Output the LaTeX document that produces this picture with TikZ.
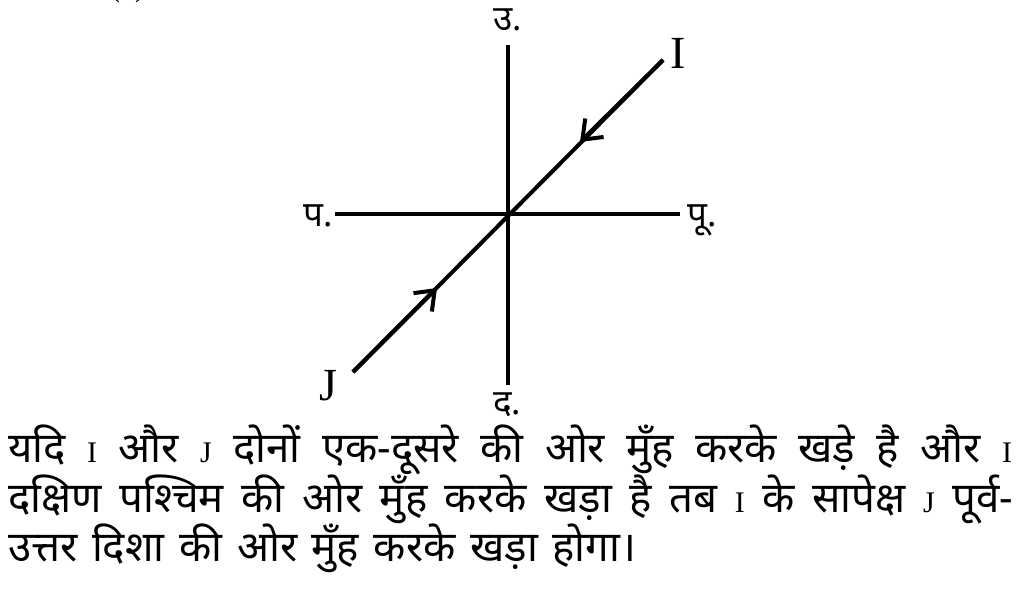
\documentclass[tikz,border=0pt]{standalone}
\usepackage{graphicx}
\usepackage{fontspec}
\setmainfont{Liberation Serif}
\newfontfamily\latinfont{Liberation Serif}
\newfontfamily\devfont[Script=Devanagari,Scale=1.4]{Noto Sans}
\newcommand\latletter[1]{\scalebox{0.65}{\fontsize{46}{50}\selectfont\latinfont #1}}
\usetikzlibrary{arrows.meta}
\begin{document}
\begin{tikzpicture}[x=1pt,y=-1pt,
  axisline/.style={line width=4pt},
  arrowseg/.style={line width=4pt,-{Straight Barb[length=17pt,width=26pt]}},
  devlab/.style={inner sep=0,font=\fontsize{25}{28}\selectfont\devfont},
  latlab/.style={inner sep=0,font=\fontsize{46}{50}\selectfont\latinfont},
  bodyline/.style={inner sep=0,anchor=base west,font=\fontsize{30}{36}\selectfont\devfont}]
\useasboundingbox (0,0) rectangle (1019,589);
% cut-off label at the top
\node[inner sep=0,anchor=base west] (lbl) at (110,-3) {\latletter{(b)}};
% axes
\coordinate (O) at (508,214);
\coordinate (Nend) at (508,45);
\coordinate (Send) at (508,385);
\coordinate (Wend) at (335,214);
\coordinate (Eend) at (680,214);
\draw[axisline] (Nend) -- (Send);
\draw[axisline] (Wend) -- (Eend);
% diagonal I--J
\coordinate (Iend) at (663,60);
\coordinate (Jend) at (353,372);
\coordinate (tu) at (580,142);
\coordinate (tl) at (437,288);
\draw[axisline] (Iend) -- (Jend);
\draw[arrowseg] (Iend) -- (tu);
\draw[arrowseg] (Jend) -- (tl);
% labels
\node[devlab,anchor=base] (north) at (508,30) {उ.};
\node[devlab,anchor=base] (west) at (318,226) {प.};
\node[devlab,anchor=base] (east) at (702,226) {पू.};
\node[devlab,anchor=base] (south) at (507,414) {द.};
\node[latlab,anchor=base] (I) at (678,68) {I};
\node[latlab,anchor=base] (J) at (328,400) {J};
% text
\node[bodyline] (l1) at (8,462) {\makebox[1004pt][s]{यदि \latletter{I} और \latletter{J} दोनों एक-दूसरे की ओर मुँह करके खड़े है और \latletter{I}}};
\node[bodyline] (l2) at (8,512) {\makebox[1005pt][s]{दक्षिण पश्चिम की ओर मुँह करके खड़ा है तब \latletter{I} के सापेक्ष \latletter{J} पूर्व-}};
\node[bodyline] (l3) at (8,561) {\makebox[628pt][s]{उत्तर दिशा की ओर मुँह करके खड़ा होगा।}};
\end{tikzpicture}
\end{document}
